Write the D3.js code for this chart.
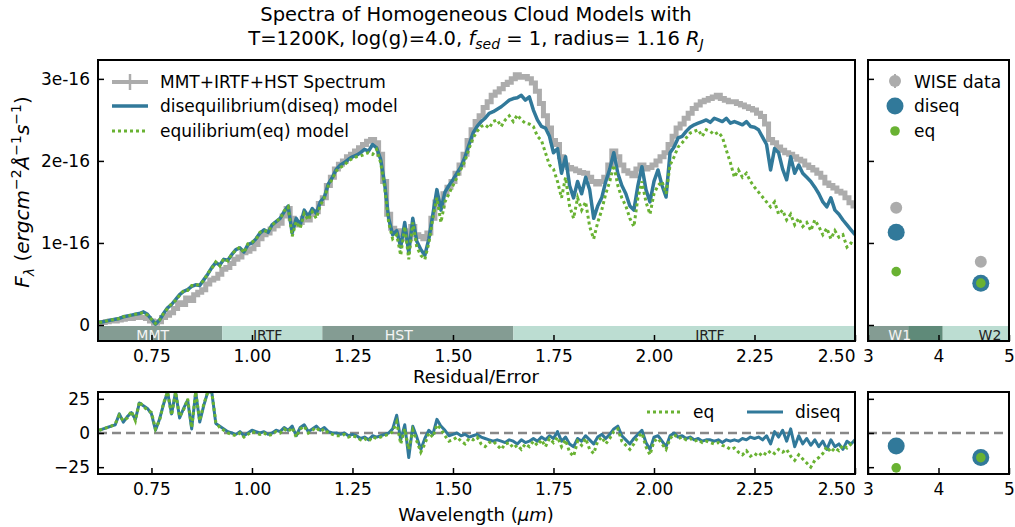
<!DOCTYPE html>
<html><head><meta charset="utf-8">
<script src="https://cdn.jsdelivr.net/npm/d3@7"></script>
<style>body{margin:0;background:#fff} svg{display:block} text{font-family:"DejaVu Sans",sans-serif;fill:#000}</style>
</head><body><svg id="c" width="1015" height="527"></svg>
<script>
// ---------- DATA (flux in units of 1e-16 erg cm^-2 A^-1 s^-1) ----------
// wavelength grid: 0.62 .. 2.50 micron, 0.01 step (rows of 10 below)
const wlStart = 0.62, wlCount = 189;
const obsFlux = [
 0.02,0.03,0.04,0.05,0.05,0.06,0.07,0.08,0.08,0.09,
 0.09,0.09,0.08,0.05,0.02,0.04,0.09,0.12,0.15,0.20,
 0.27,0.25,0.33,0.30,0.37,0.40,0.43,0.50,0.55,0.57,
 0.62,0.68,0.70,0.75,0.80,0.83,0.88,0.90,0.93,0.98,
 1.05,1.10,1.12,1.17,1.21,1.24,1.33,1.42,1.30,1.22,
 1.25,1.30,1.28,1.35,1.38,1.48,1.55,1.70,1.80,1.90,
 1.96,2.00,2.05,2.08,2.12,2.16,2.20,2.24,2.26,2.22,
 2.08,1.75,1.35,1.18,1.15,1.10,1.15,1.05,1.20,1.10,
 1.08,1.05,1.12,1.30,1.50,1.45,1.60,1.68,1.75,1.85,
 1.95,2.08,2.25,2.38,2.48,2.55,2.65,2.72,2.80,2.84,
 2.88,2.93,2.96,3.00,3.05,3.02,3.03,3.00,2.95,2.85,
 2.70,2.55,2.40,2.25,2.20,2.05,1.95,1.92,1.90,1.88,
 1.86,1.85,1.80,1.75,1.72,1.75,1.80,1.95,2.12,2.05,
 1.95,1.88,1.85,1.82,1.90,1.95,1.90,1.92,1.95,2.00,
 2.05,2.10,2.20,2.30,2.40,2.45,2.52,2.58,2.64,2.68,
 2.72,2.74,2.76,2.78,2.80,2.76,2.74,2.72,2.72,2.70,
 2.68,2.66,2.64,2.62,2.58,2.54,2.45,2.26,2.22,2.17,
 2.13,2.10,2.08,2.05,2.02,2.00,1.95,1.92,1.89,1.85,
 1.80,1.73,1.70,1.67,1.63,1.61,1.55,1.49,1.45];
const diseqFlux = [
 0.03,0.04,0.05,0.06,0.07,0.08,0.10,0.11,0.12,0.13,
 0.14,0.16,0.13,0.07,0.01,0.06,0.14,0.21,0.25,0.31,
 0.37,0.41,0.43,0.47,0.49,0.48,0.55,0.62,0.70,0.76,
 0.73,0.80,0.79,0.86,0.92,0.94,0.89,0.98,1.00,1.05,
 1.12,1.16,1.13,1.22,1.26,1.30,1.38,1.45,1.12,1.30,
 1.22,1.40,1.32,1.42,1.36,1.50,1.56,1.72,1.80,1.90,
 1.95,1.98,2.02,2.05,2.07,2.10,2.14,2.12,2.20,2.16,
 2.02,1.72,1.30,1.10,1.15,0.95,1.25,0.88,1.30,1.02,
 0.92,0.85,1.05,1.35,1.65,1.40,1.62,1.70,1.77,1.85,
 1.93,2.05,2.20,2.34,2.42,2.48,2.52,2.58,2.60,2.63,
 2.66,2.70,2.74,2.76,2.77,2.80,2.74,2.78,2.62,2.50,
 2.42,2.40,2.30,2.10,2.15,1.85,2.05,1.70,1.55,1.75,
 1.60,1.80,1.65,1.30,1.45,1.55,1.75,1.90,2.10,1.85,
 1.70,1.60,1.45,1.40,1.70,1.93,1.65,1.50,1.75,1.89,
 1.70,1.56,2.10,2.17,2.28,2.30,2.36,2.41,2.44,2.46,
 2.48,2.50,2.47,2.52,2.50,2.48,2.52,2.46,2.48,2.46,
 2.44,2.48,2.42,2.41,2.38,2.29,2.20,1.89,2.15,2.10,
 1.90,1.77,2.05,1.85,1.95,1.85,1.80,1.75,1.68,1.60,
 1.50,1.44,1.55,1.40,1.35,1.28,1.22,1.16,1.10];
const eqFlux = [
 0.03,0.04,0.05,0.06,0.07,0.08,0.10,0.11,0.12,0.13,
 0.14,0.15,0.12,0.07,0.02,0.06,0.14,0.20,0.26,0.30,
 0.36,0.42,0.42,0.48,0.48,0.50,0.54,0.63,0.69,0.77,
 0.72,0.81,0.78,0.87,0.91,0.95,0.88,0.99,1.01,1.04,
 1.13,1.15,1.14,1.21,1.27,1.29,1.39,1.44,1.08,1.26,
 1.18,1.36,1.28,1.38,1.30,1.46,1.55,1.70,1.78,1.88,
 1.92,1.95,2.00,2.03,2.05,2.06,2.08,2.10,2.08,2.14,
 1.98,1.68,1.25,1.05,1.10,0.85,1.20,0.80,1.25,0.95,
 0.85,0.80,1.00,1.30,1.55,1.25,1.50,1.60,1.70,1.80,
 1.90,2.00,2.15,2.28,2.36,2.42,2.44,2.40,2.48,2.50,
 2.42,2.50,2.55,2.48,2.56,2.50,2.46,2.45,2.42,2.30,
 2.25,2.10,1.95,1.90,1.75,1.55,1.80,1.45,1.30,1.55,
 1.40,1.50,1.20,1.05,1.25,1.40,1.60,1.75,1.95,1.70,
 1.55,1.45,1.30,1.20,1.55,1.75,1.50,1.35,1.60,1.70,
 1.75,1.60,1.95,2.05,2.17,2.22,2.28,2.34,2.36,2.38,
 2.30,2.38,2.36,2.32,2.35,2.29,2.13,1.98,1.80,1.89,
 1.80,1.85,1.75,1.68,1.62,1.56,1.50,1.44,1.50,1.35,
 1.40,1.28,1.35,1.22,1.30,1.20,1.25,1.15,1.28,1.20,
 1.10,1.18,1.05,1.15,1.07,1.10,0.95,1.00,0.98];
const diseqResid = [
 2,3,4,5,6,14,8,12,15,10,
 22,20,18,14,2,10,21,30,14,30,
 11,18,24,3,30,8,20,30,30,7,
 5,3,1,0,-1,1,-2,0,2,1,
 0,1,-1,0,2,1,4,2,5,-2,
 4,6,1,3,5,2,4,1,0,0,
 -1,0,-2,-1,-2,-4,-3,-5,-2,-3,
 -2,-1,0,3,13,-5,6,-18,5,-3,
 -12,-4,2,-1,10,5,2,-2,-1,0,
 -2,-1,-3,-2,-1,-3,-4,-5,-6,-5,
 -6,-7,-5,-6,-8,-5,-7,-6,-4,-6,
 -3,-5,-2,-4,1,-6,-3,-8,-10,-4,
 -6,-2,-5,-8,-3,-1,-4,-1,3,5,
 -2,-5,-8,-4,-1,2,-7,-12,-3,-2,
 -6,-10,-2,0,-3,-2,-4,-3,-5,-4,
 -6,-5,-5,-6,-5,-7,-5,-6,-5,-6,
 -4,-5,-3,-4,-3,-5,-2,-8,1,-3,
 2,-6,3,-10,-2,-8,-4,-9,-5,-10,
 -6,-12,-5,-10,-8,-12,-6,-8,-5];
const eqResid = [
 2,3,4,5,7,13,9,11,16,9,
 23,19,17,15,3,9,22,30,13,30,
 12,17,25,4,30,9,21,30,30,8,
 4,2,0,-1,-2,0,-3,-1,1,0,
 -1,0,-2,-1,1,0,3,1,4,-3,
 3,5,0,2,4,1,3,0,-1,-2,
 -2,-1,-3,-2,-3,-5,-4,-6,-3,-4,
 -3,-2,-1,1,8,-8,3,-12,2,-6,
 -14,-8,0,-3,6,3,-2,-6,-5,-3,
 -6,-8,-4,-5,-3,-8,-10,-7,-6,-9,
 -12,-8,-7,-11,-9,-12,-8,-10,-6,-9,
 -5,-10,-4,-7,-3,-10,-5,-14,-17,-6,
 -9,-4,-12,-15,-6,-3,-8,-4,1,3,
 -6,-9,-12,-8,-3,0,-10,-16,-6,-4,
 -8,-12,-4,-1,-4,-3,-5,-4,-6,-5,
 -7,-6,-7,-8,-7,-9,-10,-12,-11,-14,
 -16,-13,-17,-15,-17,-14,-16,-13,-15,-12,
 -14,-12,-17,-20,-16,-19,-22,-25,-20,-18,
 -15,-10,-14,-11,-13,-9,-11,-8,-6];
// instrument coverage bands
const bandNames  = ["MMT","IRTF","HST","IRTF"];
const bandStarts = [0.617,0.926,1.175,1.65];
const bandEnds   = [0.926,1.175,1.65,2.50];
const bandLabelAt= [0.753,1.039,1.365,2.139];
// WISE photometry
const wiseNames = ["W1","W2"];
const wiseWl = [3.4,4.6];
const wiseObs = [1.43,0.77];
const wiseDiseq = [1.13,0.51];
const wiseEq = [0.65,0.51];
const wiseResDiseq = [-9.5,-18];
const wiseResEq = [-25.5,-18];
// ticks
const xTicks = [0.75,1.00,1.25,1.50,1.75,2.00,2.25,2.50];
const xTickLabels = ["0.75","1.00","1.25","1.50","1.75","2.00","2.25","2.50"];
const yTicks = [0,1,2,3];
const yTickLabels = ["0","1e-16","2e-16","3e-16"];
const sideXTicks = [3,4,5];
const resYTicks = [25,0,-25];
const resYTickLabels = ["25","0","\u221225"];

// ---------- LAYOUT ----------
const C = {obs:"#acacac", diseq:"#31799a", eq:"#69b232", dark:"#849c93", light:"#bcddd2", w1b:"#5f8a79"};
const mainL=98, mainR=855, mainT=60, mainB=341;
const sideL=868, sideR=1009;
const resT=392, resB=474;
const FS = 17;

const wl = d3.range(wlCount).map(i => +(wlStart + i*0.01).toFixed(2));
const svg = d3.select("#c");
const x  = d3.scaleLinear().domain([0.617,2.50]).range([mainL,mainR]);
const xs = d3.scaleLinear().domain([3,5]).range([sideL,sideR]);
const y  = d3.scaleLinear().domain([-0.195,3.23]).range([mainB,mainT]);
const yr = d3.scaleLinear().domain([-30,30]).range([resB,resT]);

const defs = svg.append("defs");
defs.append("clipPath").attr("id","cm").append("rect").attr("x",mainL).attr("y",mainT).attr("width",mainR-mainL).attr("height",mainB-mainT);
defs.append("clipPath").attr("id","cr").append("rect").attr("x",mainL).attr("y",resT).attr("width",mainR-mainL).attr("height",resB-resT);

// title
const TF = 19.5;
const title = svg.append("text").attr("x",476).attr("y",21).attr("text-anchor","middle").style("font-size",TF+"px");
title.text("Spectra of Homogeneous Cloud Models with");
const t2 = svg.append("text").attr("x",476).attr("y",45).attr("text-anchor","middle").style("font-size",TF+"px");
t2.append("tspan").text("T=1200K, log(g)=4.0, ");
t2.append("tspan").attr("font-style","italic").text("f");
t2.append("tspan").attr("font-style","italic").attr("dy",4).style("font-size","14px").text("sed");
t2.append("tspan").attr("dy",-4).text(" = 1, radius= 1.16 ");
t2.append("tspan").attr("font-style","italic").text("R");
t2.append("tspan").attr("font-style","italic").attr("dy",4).style("font-size","14px").text("J");

// ---------- MAIN PANEL ----------
const gm = svg.append("g");
bandNames.forEach((n,i)=>{
  gm.append("rect").attr("x",x(bandStarts[i])).attr("y",y(-0.012))
    .attr("width",x(bandEnds[i])-x(bandStarts[i])).attr("height",mainB-y(-0.012))
    .attr("fill", n==="IRTF"?C.light:C.dark);
  gm.append("text").attr("x",x(bandLabelAt[i])).attr("y",mainB-1).attr("text-anchor","middle")
    .style("font-size","14px").style("fill", n==="IRTF"?"#222":"#f4f4f4").text(n);
});
const lm = gm.append("g").attr("clip-path","url(#cm)");
const stepLine = d3.line().x((d,i)=>x(wl[i])).y(d=>y(d)).curve(d3.curveStep);
lm.append("path").attr("d",stepLine(obsFlux)).attr("fill","none").attr("stroke",C.obs).attr("stroke-width",5);
const line2 = d3.line().x((d,i)=>x(wl[i])).y(d=>y(d));
lm.append("path").attr("d",line2(diseqFlux)).attr("fill","none").attr("stroke",C.diseq).attr("stroke-width",3.5).attr("stroke-linejoin","round");
lm.append("path").attr("d",line2(eqFlux)).attr("fill","none").attr("stroke",C.eq).attr("stroke-width",3).attr("stroke-dasharray","3,3");

const axB = d3.axisBottom(x).tickValues(xTicks).tickFormat((d,i)=>xTickLabels[i]).tickSizeInner(-6).tickSizeOuter(0).tickPadding(9);
const gax = gm.append("g").attr("transform",`translate(0,${mainB})`).call(axB);
const axL = d3.axisLeft(y).tickValues(yTicks).tickFormat((d,i)=>yTickLabels[i]).tickSizeInner(-6).tickSizeOuter(0).tickPadding(8);
const gay = gm.append("g").attr("transform",`translate(${mainL},0)`).call(axL);
[gax,gay].forEach(g=>{g.select(".domain").remove(); g.selectAll("line").attr("stroke","#000").attr("stroke-width",1.5); g.selectAll("text").style("font-size",FS+"px").style("font-family","DejaVu Sans");});
gax.selectAll(".tick text").filter(d=>d===2.5).attr("text-anchor","end").attr("x",0);
gm.append("rect").attr("x",mainL).attr("y",mainT).attr("width",mainR-mainL).attr("height",mainB-mainT).attr("fill","none").attr("stroke","#000").attr("stroke-width",2);

// main legend
const lg = gm.append("g");
lg.append("line").attr("x1",112).attr("x2",148).attr("y1",82).attr("y2",82).attr("stroke",C.obs).attr("stroke-width",4);
lg.append("line").attr("x1",130).attr("x2",130).attr("y1",74).attr("y2",90).attr("stroke",C.obs).attr("stroke-width",2.5);
lg.append("text").attr("x",160).attr("y",88).style("font-size",FS+"px").text("MMT+IRTF+HST Spectrum");
lg.append("line").attr("x1",112).attr("x2",148).attr("y1",106).attr("y2",106).attr("stroke",C.diseq).attr("stroke-width",3.5);
lg.append("text").attr("x",160).attr("y",112).style("font-size",FS+"px").text("disequilibrium(diseq) model");
lg.append("line").attr("x1",112).attr("x2",148).attr("y1",131).attr("y2",131).attr("stroke",C.eq).attr("stroke-width",3).attr("stroke-dasharray","3,3");
lg.append("text").attr("x",160).attr("y",137).style("font-size",FS+"px").text("equilibrium(eq) model");

// y label
const yl = svg.append("text").attr("transform","translate(29,192) rotate(-90)").attr("text-anchor","middle").style("font-size","20px");
yl.append("tspan").attr("font-style","italic").text("F");
yl.append("tspan").attr("font-style","italic").attr("dy",5).style("font-size","14px").text("\u03bb");
yl.append("tspan").attr("dy",-5).text(" (");
yl.append("tspan").attr("font-style","italic").text("ergcm");
yl.append("tspan").attr("dy",-8).style("font-size","14px").text("\u22122");
yl.append("tspan").attr("dy",8).attr("font-style","italic").text("\u00c5");
yl.append("tspan").attr("dy",-8).style("font-size","14px").text("\u22121");
yl.append("tspan").attr("dy",8).attr("font-style","italic").text("s");
yl.append("tspan").attr("dy",-8).style("font-size","14px").text("\u22121");
yl.append("tspan").attr("dy",8).text(")");

// ---------- SIDE PANEL ----------
const gs = svg.append("g");
gs.append("rect").attr("x",xs(3)).attr("y",y(-0.012)).attr("width",xs(3.57)-xs(3)).attr("height",mainB-y(-0.012)).attr("fill",C.dark);
gs.append("rect").attr("x",xs(3.57)).attr("y",y(-0.012)).attr("width",xs(4.06)-xs(3.57)).attr("height",mainB-y(-0.012)).attr("fill",C.w1b);
gs.append("rect").attr("x",xs(4.06)).attr("y",y(-0.012)).attr("width",xs(5)-xs(4.06)).attr("height",mainB-y(-0.012)).attr("fill",C.light);
gs.append("text").attr("x",xs(3.45)).attr("y",mainB-1).attr("text-anchor","middle").style("font-size","14px").style("fill","#f4f4f4").text(wiseNames[0]);
gs.append("text").attr("x",xs(4.73)).attr("y",mainB-1).attr("text-anchor","middle").style("font-size","14px").style("fill","#222").text(wiseNames[1]);
wiseWl.forEach((w,i)=>{
  gs.append("line").attr("x1",xs(w)).attr("x2",xs(w)).attr("y1",y(wiseObs[i]+0.04)).attr("y2",y(wiseObs[i]-0.04)).attr("stroke",C.obs).attr("stroke-width",2);
  gs.append("circle").attr("cx",xs(w)).attr("cy",y(wiseObs[i])).attr("r",6).attr("fill",C.obs);
  gs.append("circle").attr("cx",xs(w)).attr("cy",y(wiseDiseq[i])).attr("r",8.5).attr("fill",C.diseq);
  gs.append("circle").attr("cx",xs(w)).attr("cy",y(wiseEq[i])).attr("r",4.8).attr("fill",C.eq);
});
const axSB = d3.axisBottom(xs).tickValues(sideXTicks).tickFormat(d3.format("d")).tickSizeInner(-6).tickSizeOuter(0).tickPadding(9);
const gsx = gs.append("g").attr("transform",`translate(0,${mainB})`).call(axSB);
const axSL = d3.axisLeft(y).tickValues(yTicks).tickFormat("").tickSizeInner(-6).tickSizeOuter(0);
const gsy = gs.append("g").attr("transform",`translate(${sideL},0)`).call(axSL);
[gsx,gsy].forEach(g=>{g.select(".domain").remove(); g.selectAll("line").attr("stroke","#000").attr("stroke-width",1.5); g.selectAll("text").style("font-size",FS+"px").style("font-family","DejaVu Sans");});
gs.append("rect").attr("x",sideL).attr("y",mainT).attr("width",sideR-sideL).attr("height",mainB-mainT).attr("fill","none").attr("stroke","#000").attr("stroke-width",2);
gs.append("line").attr("x1",895).attr("x2",895).attr("y1",74).attr("y2",88).attr("stroke",C.obs).attr("stroke-width",2);
gs.append("circle").attr("cx",895).attr("cy",81).attr("r",6).attr("fill",C.obs);
gs.append("text").attr("x",914).attr("y",88).style("font-size",FS+"px").text("WISE data");
gs.append("circle").attr("cx",895).attr("cy",106).attr("r",8.5).attr("fill",C.diseq);
gs.append("text").attr("x",914).attr("y",112).style("font-size",FS+"px").text("diseq");
gs.append("circle").attr("cx",895).attr("cy",131).attr("r",4.8).attr("fill",C.eq);
gs.append("text").attr("x",914).attr("y",137).style("font-size",FS+"px").text("eq");

svg.append("text").attr("x",476).attr("y",383).attr("text-anchor","middle").style("font-size","18px").text("Residual/Error");

// ---------- RESIDUAL PANEL ----------
const gr = svg.append("g");
const rline = d3.line().x((d,i)=>x(wl[i])).y(d=>yr(d));
const lr = gr.append("g").attr("clip-path","url(#cr)");
lr.append("line").attr("x1",mainL).attr("x2",mainR).attr("y1",yr(0)).attr("y2",yr(0)).attr("stroke","#888").attr("stroke-width",2.5).attr("stroke-dasharray","9,5");
lr.append("path").attr("d",rline(diseqResid)).attr("fill","none").attr("stroke",C.diseq).attr("stroke-width",3).attr("stroke-linejoin","round");
lr.append("path").attr("d",rline(eqResid)).attr("fill","none").attr("stroke",C.eq).attr("stroke-width",3).attr("stroke-dasharray","3,3");
const axRB = d3.axisBottom(x).tickValues(xTicks).tickFormat((d,i)=>xTickLabels[i]).tickSizeInner(-6).tickSizeOuter(0).tickPadding(9);
const grx = gr.append("g").attr("transform",`translate(0,${resB})`).call(axRB);
const axRL = d3.axisLeft(yr).tickValues(resYTicks).tickFormat((d,i)=>resYTickLabels[i]).tickSizeInner(-6).tickSizeOuter(0).tickPadding(8);
const gry = gr.append("g").attr("transform",`translate(${mainL},0)`).call(axRL);
[grx,gry].forEach(g=>{g.select(".domain").remove(); g.selectAll("line").attr("stroke","#000").attr("stroke-width",1.5); g.selectAll("text").style("font-size",FS+"px").style("font-family","DejaVu Sans");});
grx.selectAll(".tick text").filter(d=>d===2.5).attr("text-anchor","end").attr("x",0);
gr.append("rect").attr("x",mainL).attr("y",resT).attr("width",mainR-mainL).attr("height",resB-resT).attr("fill","none").attr("stroke","#000").attr("stroke-width",2);
gr.append("line").attr("x1",647).attr("x2",681).attr("y1",412).attr("y2",412).attr("stroke",C.eq).attr("stroke-width",3).attr("stroke-dasharray","3,3");
gr.append("text").attr("x",693).attr("y",418).style("font-size",FS+"px").text("eq");
gr.append("line").attr("x1",747).attr("x2",783).attr("y1",412).attr("y2",412).attr("stroke",C.diseq).attr("stroke-width",3);
gr.append("text").attr("x",795).attr("y",418).style("font-size",FS+"px").text("diseq");

const grs = svg.append("g");
grs.append("line").attr("x1",sideL).attr("x2",sideR).attr("y1",yr(0)).attr("y2",yr(0)).attr("stroke","#888").attr("stroke-width",2.5).attr("stroke-dasharray","9,5");
wiseWl.forEach((w,i)=>{
  grs.append("circle").attr("cx",xs(w)).attr("cy",yr(wiseResDiseq[i])).attr("r",8.5).attr("fill",C.diseq);
  grs.append("circle").attr("cx",xs(w)).attr("cy",yr(wiseResEq[i])).attr("r",4.8).attr("fill",C.eq);
});
const grsx = grs.append("g").attr("transform",`translate(0,${resB})`).call(d3.axisBottom(xs).tickValues(sideXTicks).tickFormat(d3.format("d")).tickSizeInner(-6).tickSizeOuter(0).tickPadding(9));
const grsy = grs.append("g").attr("transform",`translate(${sideL},0)`).call(d3.axisLeft(yr).tickValues(resYTicks).tickFormat("").tickSizeInner(-6).tickSizeOuter(0));
[grsx,grsy].forEach(g=>{g.select(".domain").remove(); g.selectAll("line").attr("stroke","#000").attr("stroke-width",1.5); g.selectAll("text").style("font-size",FS+"px").style("font-family","DejaVu Sans");});
grs.append("rect").attr("x",sideL).attr("y",resT).attr("width",sideR-sideL).attr("height",resB-resT).attr("fill","none").attr("stroke","#000").attr("stroke-width",2);

const xl = svg.append("text").attr("x",476).attr("y",521).attr("text-anchor","middle").style("font-size","18px");
xl.append("tspan").text("Wavelength (");
xl.append("tspan").attr("font-style","italic").text("\u03bcm");
xl.append("tspan").text(")");
</script></body></html>
